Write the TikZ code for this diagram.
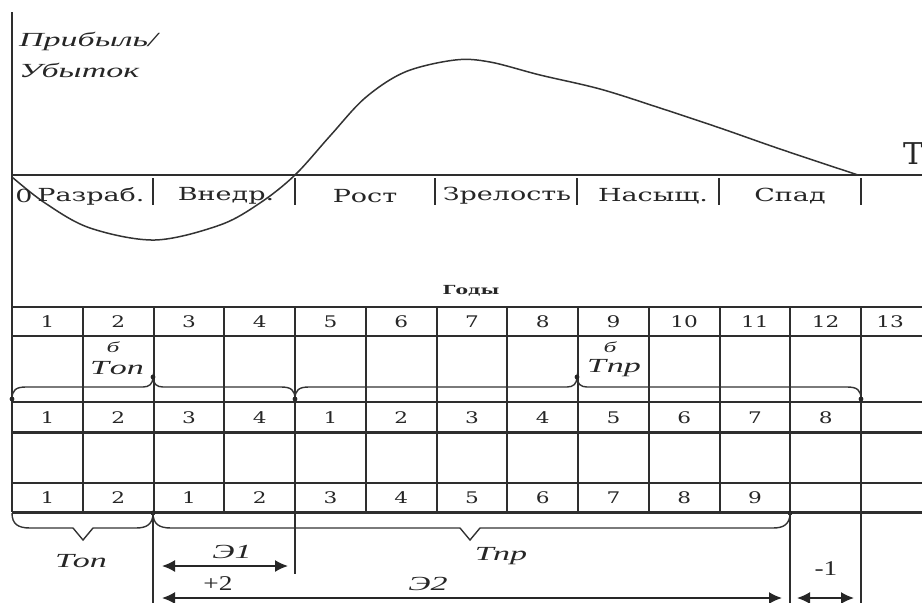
\documentclass[tikz,border=0pt]{standalone}
\usepackage{fontspec}
\setmainfont{DejaVu Serif}
\newfontfamily\uprfont[FakeStretch=1.5]{DejaVu Serif}
\newfontfamily\numfont[FakeStretch=1.35]{DejaVu Serif}
\newfontfamily\itfont[FakeStretch=1.7]{Liberation Serif}
\newfontfamily\smfont[FakeStretch=1.3]{Liberation Serif}
\usetikzlibrary{arrows.meta}

\tikzset{
  ink/.style={draw=black!82, line width=2pt},
  axisline/.style={ink},
  gridline/.style={ink},
  heavyline/.style={draw=black!82, line width=3pt},
  curveline/.style={draw=black!80, line width=1.5pt},
  tickline/.style={ink},
  bracepath/.style={draw=black!80, line width=1.4pt},
  phase/.style={text=black!85, inner sep=0pt, font=\uprfont\fontsize{18}{18}\selectfont},
  num/.style={text=black!85, inner sep=0pt, font=\numfont\fontsize{16}{16}\selectfont},
  itl/.style={text=black!85, inner sep=0pt, font=\itfont\itshape\fontsize{20}{20}\selectfont},
  supl/.style={text=black!85, inner sep=0pt, font=\itfont\itshape\fontsize{15}{15}\selectfont},
  sml/.style={text=black!85, inner sep=0pt, font=\smfont\fontsize{21}{21}\selectfont},
  yearsl/.style={text=black!85, inner sep=0pt, font=\uprfont\bfseries\fontsize{12.5}{12.5}\selectfont},
  bigt/.style={text=black!85, inner sep=0pt, font=\rmfamily\fontsize{30}{30}\selectfont},
  dimarrow/.style={draw=black!85, line width=1.6pt, {Latex[length=13pt,width=12pt]}-{Latex[length=13pt,width=12pt]}},
  joint/.style={fill=black!85}
}

\begin{document}
\begin{tikzpicture}[x=1pt,y=-1pt]
\useasboundingbox (0,0) rectangle (922,603);

% profit axis and time axis
\draw[axisline] (12,12) -- (12,512);
\draw[axisline] (12,175) -- (922,175);
\node[bigt, anchor=west] (tlabel) at (903,154) {T};

% profit / loss curve over the life cycle
\draw[curveline] plot[smooth, tension=0.55] coordinates {
  (12,177) (45,203) (90,228) (155,240) (220,225) (260,203) (295,175)
  (330,136) (365,98) (405,72) (455,60) (490,62) (540,75) (600,89)
  (660,108) (720,128) (780,149) (858,175)};

% stage separators
\foreach \x in {153,295,435,577,719,861}
  \draw[tickline] (\x,178) -- (\x,205);

% stage names
\node[phase] (zero) at (24,196) {0};
\node[phase] (ph1) at (91,196) {Разраб.};
\node[phase] (ph2) at (226,196) {Внедр.};
\node[phase] (ph3) at (365,196) {Рост};
\node[phase] (ph4) at (507,196) {Зрелость};
\node[phase] (ph5) at (653,196) {Насыщ.};
\node[phase] (ph6) at (790,196) {Спад};

% profit / loss caption
\node[itl, anchor=west] (profit) at (19,41) {Прибыль/};
\node[itl, anchor=west] (loss) at (19,70) {Убыток};

% years caption
\node[yearsl] (years) at (471,291) {Годы};

% table grid
\foreach \y in {307,336,402,483}
  \draw[gridline] (12,\y) -- (922,\y);
\foreach \y in {432,512}
  \draw[heavyline] (12,\y) -- (922,\y);
\foreach \k in {0,...,12}
  \draw[gridline] ({12+70.75*\k},307) -- ({12+70.75*\k},512);

% row of calendar years
\foreach \n [count=\i] in {1,...,12}
  \node[num] (ya\i) at ({12+70.75*(\i-0.5)},322) {\n};
\node[num] (ya13) at (890,322) {13};

% row of base-variant years
\foreach \n [count=\i] in {1,2,3,4,1,2,3,4,5,6,7,8}
  \node[num] (yb\i) at ({12+70.75*(\i-0.5)},418) {\n};

% row of new-variant years
\foreach \n [count=\i] in {1,2,1,2,3,4,5,6,7,8,9}
  \node[num] (yc\i) at ({12+70.75*(\i-0.5)},498) {\n};

% upper braces (base variant)
\draw[bracepath] (12,399) .. controls (12,390) and (16,387) .. (26,387)
  -- (143,387) .. controls (149,387) and (153,384) .. (153,377)
  .. controls (153,384) and (157,387) .. (163,387)
  -- (281,387) .. controls (291,387) and (295,390) .. (295,399);
\draw[bracepath] (295,399) .. controls (295,390) and (299,387) .. (309,387)
  -- (567,387) .. controls (573,387) and (577,384) .. (577,377)
  .. controls (577,384) and (581,387) .. (587,387)
  -- (847,387) .. controls (857,387) and (861,390) .. (861,399);
\foreach \p in {(12,399),(153,377),(295,399),(577,377),(861,399)}
  \fill[joint] \p circle (2.4);

% base-variant period labels: T with a small superscript above the index
\node[itl] (topb) at (117,368) {Т\kern1pt оп};
\node[supl] (topbsup) at (113,347) {б};
\node[itl] (tprb) at (614,368) {Т\kern1pt пр};
\node[supl] (tprbsup) at (610,347) {б};

% lower braces (new variant)
\draw[bracepath] (12,513) .. controls (12,524) and (18,528) .. (30,528)
  -- (73,528) -- (83,540) -- (93,528)
  -- (136,528) .. controls (147,528) and (153,524) .. (153,513);
\draw[bracepath] (153,513) .. controls (153,524) and (159,528) .. (171,528)
  -- (460,528) -- (470,540) -- (480,528)
  -- (773,528) .. controls (784,528) and (790,524) .. (790,513);
\foreach \p in {(153,513),(790,513)}
  \fill[joint] \p circle (2.4);

\node[itl] (top) at (81,561) {Топ};
\node[itl] (tpr) at (501,556) {Тпр};

% effect markers
\draw[gridline] (153,512) -- (153,603);
\draw[gridline] (295,512) -- (295,574);
\draw[gridline] (790,512) -- (790,603);
\draw[gridline] (861,512) -- (861,603);

\coordinate (e1a) at (162,566);
\coordinate (e1b) at (288,566);
\coordinate (e2a) at (162,598);
\coordinate (e2b) at (782,598);
\coordinate (m1a) at (797,598);
\coordinate (m1b) at (854,598);
\draw[dimarrow] (e1a) -- (e1b);
\draw[dimarrow] (e2a) -- (e2b);
\draw[dimarrow] (m1a) -- (m1b);

\node[itl] (e1) at (232,552) {Э1};
\node[itl] (e2) at (428,584) {Э2};
\node[sml] (plus2) at (218,584) {+2};
\node[sml] (minus1) at (826,569) {-1};
\end{tikzpicture}
\end{document}
